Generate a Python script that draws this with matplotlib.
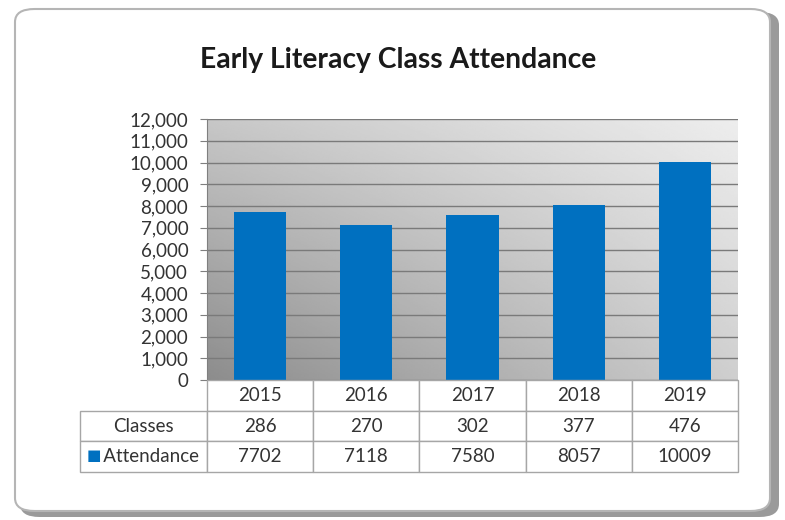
import numpy as np
import matplotlib.pyplot as plt
from matplotlib.patches import FancyBboxPatch
from matplotlib.ticker import FuncFormatter

# data
years = ["2015", "2016", "2017", "2018", "2019"]
classes = [286, 270, 302, 377, 476]
attendance = [7702, 7118, 7580, 8057, 10009]
y_ticks = list(range(0, 12001, 1000))

W, H = 785, 520
fig = plt.figure(figsize=(W / 100, H / 100), dpi=100)
fig.patch.set_facecolor("white")
plt.rcParams["font.family"] = ["Lato", "DejaVu Sans"]

# frame with shadow
shadow = FancyBboxPatch((20 / W, 3 / H), 759 / W, 505 / H,
                        boxstyle="round,pad=0,rounding_size=0.025",
                        transform=fig.transFigure, facecolor="#9a9a9a",
                        edgecolor="none", zorder=0)
frame = FancyBboxPatch((15 / W, 9 / H), 755 / W, 502 / H,
                       boxstyle="round,pad=0,rounding_size=0.025",
                       transform=fig.transFigure, facecolor="white",
                       edgecolor="#b5b5b5", linewidth=1.5, zorder=1)
fig.patches.extend([shadow, frame])

# plot area in pixels: x 207..738, y 119..380 (from top)
ax = fig.add_axes([207 / W, (H - 380) / H, (738 - 207) / W, (380 - 119) / H])
ax.set_zorder(2)

# gray gradient behind bars: dark bottom-left, light top-right
gx, gy = np.meshgrid(np.linspace(0, 1, 200), np.linspace(0, 1, 200))
grad = 0.55 + 0.23 * gy + 0.26 * gx - 0.11 * gx * gy
ax.imshow(grad, extent=(-0.5, 4.5, 0, 12000), origin="lower", aspect="auto",
          cmap="gray", vmin=0, vmax=1, zorder=0)

x = np.arange(len(years))
ax.bar(x, attendance, width=0.49, color="#0070C0", zorder=3)

ax.set_xlim(-0.5, 4.5)
ax.set_ylim(0, 12000)
ax.set_yticks(y_ticks)
ax.yaxis.set_major_formatter(FuncFormatter(lambda v, p: f"{int(v):,}"))
ax.tick_params(axis="y", labelsize=13.5, labelcolor="#333333", length=5,
               color="#7f7f7f", pad=8.5)
ax.set_xticks([])
ax.grid(axis="y", color="#7a7a7a", linewidth=1.0, zorder=1)
ax.set_axisbelow(True)
for s in ["top", "right", "bottom"]:
    ax.spines[s].set_visible(False)
ax.spines["left"].set_color("#7f7f7f")

# data table under the plot
cell_text = [["Classes"] + [str(v) for v in classes],
             ["Attendance"] + [str(v) for v in attendance]]
col_w = [127] + [106.2] * 5
tbl = ax.table(cellText=cell_text, colLabels=[""] + years,
               colWidths=[w / sum(col_w) for w in col_w],
               cellLoc="center",
               bbox=[(80 - 207) / 531, (380 - 472) / 261, (738 - 80) / 531, 92 / 261])
tbl.auto_set_font_size(False)
tbl.set_zorder(4)
for (r, c), cell in tbl.get_celld().items():
    cell.set_edgecolor("#a6a6a6")
    cell.set_linewidth(1.0)
    cell.set_facecolor("white")
    cell.get_text().set_fontsize(13.5)
    cell.get_text().set_color("#333333")
    if r == 0 and c == 0:
        cell.visible_edges = ""
    if r == 2 and c == 0:
        cell.get_text().set_text("   Attendance")

# legend key in the Attendance row label
ax.text((87 - 207) / 531, (380 - 456) / 261, "■", transform=ax.transAxes,
        color="#0070C0", fontsize=11, va="center", ha="left",
        family="DejaVu Sans", zorder=5)

fig.text(398 / W, 1 - 60 / H, "Early Literacy Class Attendance",
         ha="center", va="center", fontsize=20.3, fontweight="bold",
         color="#1a1a1a", zorder=5)

fig.savefig("out.png", dpi=100)
